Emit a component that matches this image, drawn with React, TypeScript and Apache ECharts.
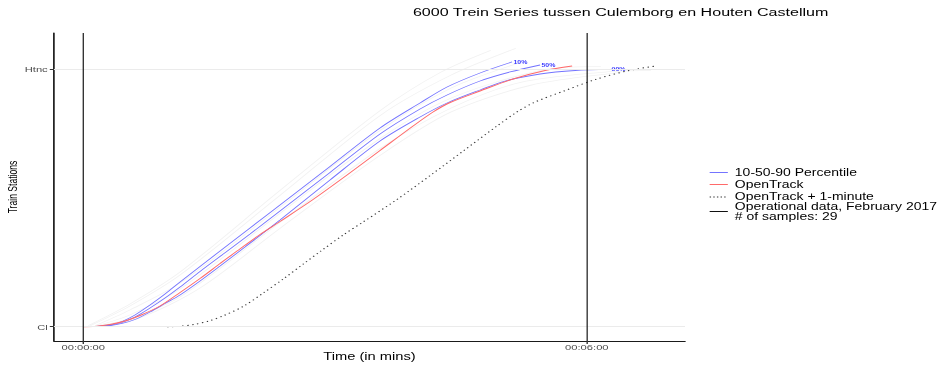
import React, { useEffect, useRef } from "react";
import * as echarts from "echarts";

// ---------- texts ----------
const TITLE = "6000 Trein Series tussen Culemborg en Houten Castellum";
const X_NAME = "Time (in mins)";
const Y_NAME = "Train Stations";
const xTickValues = [0, 6];
const xTickLabels = ["00:00:00", "00:06:00"];
const yTickValues = [0, 1];
const yTickLabels = ["Cl", "Htnc"];
const verticalLineTimes = [0, 6];
const percentileLabels = ["10%", "50%", "90%"];
const OFFSET_MIN = 1; // OpenTrack + 1-minute

// ---------- data: [time in minutes, normalised distance Cl(0) -> Htnc(1)] ----------
const p10 = [
  [0.163, 0.0008], [0.318, 0.0066], [0.461, 0.0202], [0.616, 0.0455], [0.795, 0.0843],
  [0.974, 0.127], [1.153, 0.1737], [1.391, 0.2339], [1.63, 0.2941], [1.987, 0.3834],
  [2.344, 0.4728], [2.94, 0.6224], [3.536, 0.772], [4.013, 0.8691], [4.335, 0.9312],
  [4.728, 0.9856], [5.109, 1.0284],
];
const p50 = [
  [0.163, 0.0008], [0.318, 0.0054], [0.461, 0.0163], [0.616, 0.0377], [0.795, 0.0726],
  [0.974, 0.1115], [1.153, 0.1542], [1.391, 0.2145], [1.701, 0.2902], [1.987, 0.3601],
  [2.344, 0.4495], [2.94, 0.5991], [3.536, 0.7486], [4.013, 0.8458], [4.335, 0.9002],
  [4.728, 0.9545], [5.086, 0.9895], [5.443, 1.0167],
];
const p90 = [
  [0.163, 0.0008], [0.318, 0.0039], [0.461, 0.0124], [0.616, 0.028], [0.795, 0.0571],
  [0.974, 0.0901], [1.153, 0.1232], [1.391, 0.1775], [1.63, 0.2358], [1.927, 0.3096],
  [2.344, 0.4145], [2.94, 0.5699], [3.536, 0.7214], [4.013, 0.8147], [4.335, 0.8691],
  [4.728, 0.9196], [5.026, 0.9545], [5.443, 0.9817], [5.861, 0.9953], [6.278, 1.0],
];
const openTrack = [
  [0, 0], [0.139, 0.0012], [0.318, 0.0085], [0.497, 0.0221], [0.676, 0.0435],
  [0.914, 0.0804], [1.153, 0.1329], [1.391, 0.1873], [1.63, 0.2455], [1.832, 0.2941],
  [2.106, 0.3582], [2.344, 0.4087], [2.738, 0.4942], [3.143, 0.5894], [3.536, 0.6845],
  [3.93, 0.7797], [4.168, 0.8341], [4.371, 0.871], [4.728, 0.9157], [5.121, 0.9623],
  [5.503, 0.9953], [5.825, 1.0128],
];
const sample1 = [[0.084, 0.0039], [0.561, 0.0814], [1.157, 0.2016], [2.35, 0.5116], [3.543, 0.8217], [4.378, 0.9767], [5.153, 1.0814]];
const sample2 = [[0.143, 0.0039], [0.561, 0.0659], [1.157, 0.1705], [2.35, 0.4651], [3.543, 0.7636], [4.378, 0.9264], [5.213, 1.0271]];
const sample3 = [[0.167, 0.0039], [0.561, 0.0465], [1.157, 0.1473], [2.35, 0.4419], [3.543, 0.7326], [4.378, 0.8876], [5.451, 0.9961], [6.167, 1.0116]];
const sample4 = [[0.203, 0.0039], [0.561, 0.031], [1.157, 0.1163], [2.35, 0.407], [3.543, 0.6938], [4.378, 0.8488], [5.213, 0.9496], [6.167, 0.9884], [6.764, 0.9961]];
const sample5 = [[0.203, 0.0039], [0.68, 0.0349], [1.396, 0.1512], [2.35, 0.3837], [3.543, 0.6667], [4.378, 0.8333], [5.332, 0.938], [6.406, 0.9884]];
const sample6 = [[0.06, 0.0039], [0.561, 0.0891], [1.157, 0.2132], [2.35, 0.531], [3.543, 0.8411], [4.259, 0.9884], [4.855, 1.0736]];
const samples = [sample1, sample2, sample3, sample4, sample5, sample6];

// ---------- layout (the reference is horizontally stretched) ----------
const W = 678;
const H = 368;
const S = 949 / W;
const FONT = "'Liberation Sans', Arial, Helvetica, sans-serif";
const BLUE = "#7474ff";
const RED = "#ff6a6a";

export default function App() {
  const ref = useRef<HTMLDivElement>(null);
  useEffect(() => {
    document.body.style.margin = "0";
    const chart = echarts.init(ref.current!, undefined, { renderer: "svg", width: W, height: H });
    const openTrackPlus = openTrack.map(([t, d]) => [t + OFFSET_MIN, d]);
    const curve = (name: string, data: number[][], color: string, width: number, extra: any = {}) => ({
      name,
      type: "line",
      data,
      showSymbol: false,
      symbol: "none",
      smooth: 0.3,
      silent: true,
      lineStyle: { color, width },
      ...extra,
    });
    const pctLabel = (i: number) => ({
      endLabel: {
        show: true,
        formatter: percentileLabels[i],
        fontSize: 5,
        fontWeight: "bold",
        color: "#3a3aff",
        distance: 1,
        fontFamily: FONT,
      },
    });
    const legendRows = [
      { key: 172.5, color: BLUE, dash: null, text: "10-50-90 Percentile", ty: 173 },
      { key: 184.5, color: RED, dash: null, text: "OpenTrack", ty: 184.5 },
      { key: 197, color: "#333", dash: [1, 1.6], text: "OpenTrack + 1-minute", ty: 196.5 },
      { key: 211.5, color: "#111", dash: null, text: "Operational data, February 2017\n# of samples: 29", ty: 211.8 },
    ];
    const graphics: any[] = [
      {
        type: "text",
        x: 295,
        y: 12,
        style: { text: TITLE, fontSize: 11.5, fontFamily: FONT, fill: "#000", textAlign: "left", textVerticalAlign: "middle", verticalAlign: "middle" },
      },
    ];
    legendRows.forEach((r) => {
      graphics.push({
        type: "line",
        shape: { x1: 507, y1: r.key, x2: 520, y2: r.key },
        style: { stroke: r.color, lineWidth: 1, lineDash: r.dash || undefined },
      });
      graphics.push({
        type: "text",
        x: 525,
        y: r.ty,
        style: { text: r.text, fontSize: 10, lineHeight: 10.5, fontFamily: FONT, fill: "#000", textAlign: "left", textVerticalAlign: "middle", verticalAlign: "middle" },
      });
    });

    const option: any = {
      animation: false,
      textStyle: { fontFamily: FONT },
      grid: { left: 54 / S, right: (949 - 685) / S, top: 33, bottom: 27, containLabel: false, outerBoundsMode: "none" },
      xAxis: {
        type: "value",
        min: -0.349,
        max: 7.17,
        name: X_NAME,
        nameLocation: "middle",
        nameGap: 10,
        nameMoveOverlap: false,
        nameTextStyle: { fontSize: 10.5, color: "#000", fontFamily: FONT },
        axisLine: { show: true, onZero: false, lineStyle: { color: "#1a1a1a", width: 1.2 } },
        axisTick: { show: true, customValues: xTickValues, length: 3, lineStyle: { color: "#333", width: 1 } },
        axisLabel: {
          customValues: xTickValues,
          formatter: (v: number) => xTickLabels[xTickValues.indexOf(v)] ?? "",
          fontSize: 8,
          color: "#4d4d4d",
          margin: 2.5,
          fontFamily: FONT,
        },
        splitLine: { show: false },
      },
      yAxis: {
        type: "value",
        min: -0.0556,
        max: 1.141,
        name: Y_NAME,
        nameLocation: "middle",
        nameRotate: 90,
        nameGap: 25,
        nameMoveOverlap: false,
        nameTextStyle: { fontSize: 8.6, color: "#000", fontFamily: FONT },
        axisLine: { show: true, onZero: false, lineStyle: { color: "#1a1a1a", width: 1.2 } },
        axisTick: { show: true, customValues: yTickValues, length: 3, lineStyle: { color: "#333", width: 1 } },
        axisLabel: {
          customValues: yTickValues,
          formatter: (v: number) => yTickLabels[yTickValues.indexOf(v)] ?? "",
          fontSize: 8,
          color: "#4d4d4d",
          margin: 4.5,
          fontFamily: FONT,
        },
        splitLine: { show: false },
      },
      graphic: graphics,
      series: [
        ...samples.map((s, i) =>
          curve("sample" + (i + 1), s, "#f2f2f2", 0.8,
            i === 0
              ? {
                  markLine: {
                    silent: true,
                    symbol: "none",
                    label: { show: false },
                    lineStyle: { color: "#ebebeb", width: 0.8, type: "solid" },
                    data: yTickValues.map((v) => ({ yAxis: v })),
                  },
                }
              : {}
          )
        ),
        curve("90%", p90, BLUE, 0.8, pctLabel(2)),
        curve("50%", p50, BLUE, 0.8, pctLabel(1)),
        curve("10%", p10, BLUE, 0.8, pctLabel(0)),
        curve("OpenTrack", openTrack, RED, 0.9),
        curve("OpenTrack + 1-minute", openTrackPlus, "#333", 1, {
          lineStyle: { color: "#333", width: 1, type: [1, 2.6] },
          markLine: {
            silent: true,
            symbol: "none",
            label: { show: false },
            lineStyle: { color: "#222", width: 0.9, type: "solid" },
            data: verticalLineTimes.map((v) => ({ xAxis: v })),
          },
        }),
      ],
    };
    chart.setOption(option);
    return () => chart.dispose();
  }, []);
  return (
    <div style={{ width: 949, height: 368, overflow: "hidden", background: "#fff" }}>
      <div
        ref={ref}
        style={{ width: W, height: H, transform: `scaleX(${S})`, transformOrigin: "0 0", willChange: "transform" }}
      />
    </div>
  );
}
